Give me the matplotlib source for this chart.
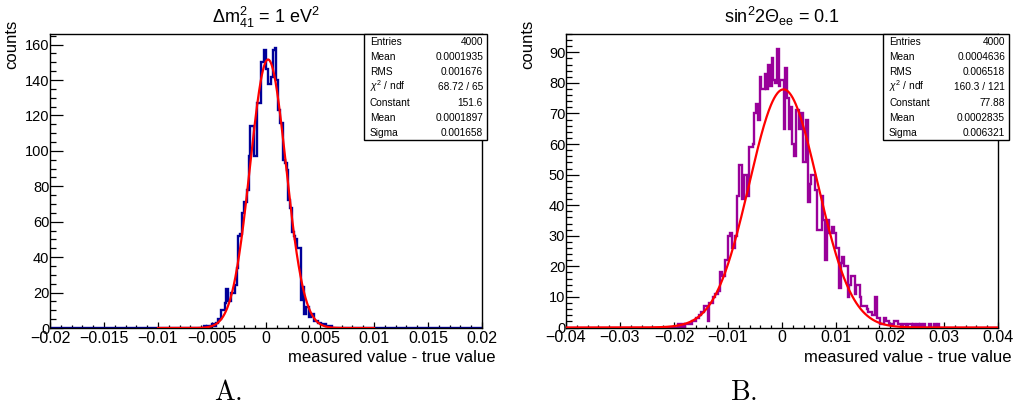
import numpy as np
import matplotlib
matplotlib.use('Agg')
import matplotlib.pyplot as plt
from matplotlib.patches import Rectangle
from matplotlib.ticker import MultipleLocator, FuncFormatter

plt.rcParams['font.family'] = ['Liberation Sans', 'DejaVu Sans']
plt.rcParams['mathtext.fontset'] = 'custom'
plt.rcParams['mathtext.rm'] = 'Liberation Sans'
plt.rcParams['mathtext.it'] = 'Liberation Sans:italic'
plt.rcParams['mathtext.bf'] = 'Liberation Sans:bold'

W, H = 1028, 413

# ---------------- data ----------------
a_range = (-0.02, 0.02)
a_nbins = 250
a_first_bin = 89
a_counts = [1, 0, 1, 0, 1, 2, 1, 3, 5, 5, 10, 10, 14, 22, 15, 15, 20, 20, 24, 34,
            52, 53, 65, 71, 71, 78, 97, 114, 114, 97, 97, 127, 127, 150, 150, 157,
            146, 138, 138, 142, 157, 158, 140, 123, 116, 116, 95, 93, 89, 72, 68,
            54, 52, 50, 45, 45, 16, 23, 8, 12, 12, 6, 8, 8, 4, 4, 3, 3, 2, 2, 2, 1, 1, 1]
a_fit = dict(const=151.6, mean=0.0001897, sigma=0.001658)
a_fit_range = (-0.01, 0.01)
a_stats = [("Entries", "4000"), ("Mean", "0.0001935"), ("RMS", "0.001676"),
           (r"$\chi^{2}$ / ndf", "68.72 / 65"), ("Constant", "151.6"),
           ("Mean", "0.0001897"), ("Sigma", "0.001658")]
a_title = r"$\mathregular{\Delta m^{2}_{41}}$ = 1 eV$\mathregular{^{2}}$"

b_range = (-0.04, 0.04)
b_nbins = 250
b_first_bin = 65
b_counts = [1, 0, 1, 0, 1, 1,
            1, 1, 2, 2, 3, 3, 4, 5, 5, 7, 7, 2, 8, 8, 10, 11, 11, 12,
            18, 17, 17, 22, 22, 30, 31, 26, 26, 30, 43, 53, 53, 42, 50, 50, 43, 59,
            59, 60, 70, 73, 68, 82, 78, 78, 83, 78, 86, 79, 88, 81, 80, 91, 79, 81,
            81, 65, 85, 75, 65, 72, 60, 56, 71, 71, 65, 70, 54, 54, 68,
            41, 47, 50, 50, 45, 32, 32, 32, 43, 35, 22, 35, 31, 31, 33, 31,
            26, 26, 13, 21, 23, 20, 20, 10, 14, 17, 17, 11, 14, 14,
            10, 7, 7, 7, 6, 5, 5, 4, 4, 10, 3, 3, 1, 1, 3, 2, 2, 1, 1, 1, 2, 2, 1, 1,
            0, 1, 1, 0, 1, 1, 0, 1, 0, 1, 0, 1, 0, 1, 0, 0, 1, 0, 0, 1, 0, 1]
b_fit = dict(const=77.88, mean=0.0002835, sigma=0.006321)
b_fit_range = (-0.04, 0.04)
b_stats = [("Entries", "4000"), ("Mean", "0.0004636"), ("RMS", "0.006518"),
           (r"$\chi^{2}$ / ndf", "160.3 / 121"), ("Constant", "77.88"),
           ("Mean", "0.0002835"), ("Sigma", "0.006321")]
b_title = r"sin$\mathregular{^{2}}$2$\mathregular{\Theta_{ee}}$ = 0.1"

fig = plt.figure(figsize=(W / 100, H / 100), dpi=100)


def fx(x):
    return x / W


def fy(y):
    return 1 - y / H


def fmt(v, pos):
    if abs(v) < 1e-12:
        return "0"
    s = ("%.3f" % v).rstrip('0').rstrip('.')
    return s.replace('-', '\u2212')


def panel(left, right, top, bottom, rng, nbins, first, counts, color, fit,
          fit_rng, ymax, xmaj, xmin, ymaj, ymin, stats, box, title, letter):
    ax = fig.add_axes([fx(left), fy(bottom), fx(right - left), (bottom - top) / H])
    edges = np.linspace(rng[0], rng[1], nbins + 1)
    vals = np.zeros(nbins)
    vals[first:first + len(counts)] = counts
    ax.stairs(vals, edges, color=color, lw=1.7, zorder=2)
    xs = np.linspace(fit_rng[0], fit_rng[1], 800)
    ys = fit['const'] * np.exp(-0.5 * ((xs - fit['mean']) / fit['sigma']) ** 2)
    ax.plot(xs, ys, color='#ff0000', lw=1.6, zorder=3)
    ax.set_xlim(*rng)
    ax.set_ylim(0, ymax)
    ax.xaxis.set_major_locator(MultipleLocator(xmaj))
    ax.xaxis.set_minor_locator(MultipleLocator(xmin))
    ax.yaxis.set_major_locator(MultipleLocator(ymaj))
    ax.yaxis.set_minor_locator(MultipleLocator(ymin))
    ax.xaxis.set_major_formatter(FuncFormatter(fmt))
    ax.tick_params(axis='x', which='major', direction='in', length=4.3, width=0.9,
                   labelsize=11.5, pad=2)
    ax.tick_params(axis='x', which='minor', direction='in', length=2.1, width=0.9)
    ax.tick_params(axis='y', which='major', direction='in', length=9.3, width=0.9,
                   labelsize=10.5, pad=0.5)
    ax.tick_params(axis='y', which='minor', direction='in', length=4.6, width=0.9)
    for sp in ax.spines.values():
        sp.set_linewidth(1.0)
    ax.set_title(title, fontsize=13, pad=8)
    # axis titles
    fig.text(fx(right + 14), fy(358), "measured value - true value", ha='right',
             va='center', fontsize=12)
    fig.text(fx(left - 38), fy(20), "counts", rotation=90, ha='center', va='top',
             fontsize=12)
    # stat box
    bl, br, bt, bb = box
    fig.add_artist(Rectangle((fx(bl), fy(bb)), fx(br - bl), (bb - bt) / H,
                             transform=fig.transFigure, facecolor='white',
                             edgecolor='black', lw=1.0, zorder=5))
    n = len(stats)
    for i, (k, v) in enumerate(stats):
        yc = bt + (bb - bt) * (i + 0.5) / n + 3.5
        fig.text(fx(bl + 6), fy(yc), k, ha='left', va='baseline', fontsize=7.3, zorder=6)
        fig.text(fx(br - 4), fy(yc), v, ha='right', va='baseline', fontsize=7.3, zorder=6)
    fig.text(fx((left + right) / 2 - 38), fy(393), r"$\mathrm{%s.}$" % letter,
             ha='center', va='center', fontsize=20, math_fontfamily='cm')
    return ax


panel(50, 482, 34, 328, a_range, a_nbins, a_first_bin, a_counts, '#000099',
      a_fit, a_fit_range, 166, 0.005, 0.001, 20, 5, a_stats,
      (364, 487, 34, 140), a_title, 'A')
panel(566, 998, 34, 327.5, b_range, b_nbins, b_first_bin, b_counts, '#990099',
      b_fit, b_fit_range, 96, 0.01, 0.002, 10, 2, b_stats,
      (883, 1009, 34, 140), b_title, 'B')

fig.savefig('out.png', dpi=100)
